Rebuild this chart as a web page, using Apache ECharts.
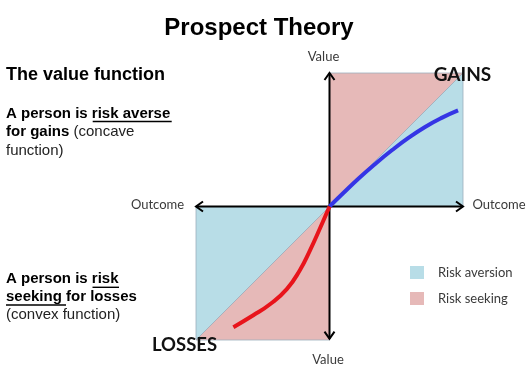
<!DOCTYPE html>
<html>
<head>
<meta charset="utf-8">
<script src="https://cdn.jsdelivr.net/npm/echarts@6/dist/echarts.min.js"></script>
<style>html,body{margin:0;padding:0;background:#fff}#c{width:527px;height:369px}</style>
</head>
<body>
<div id="c"></div>
<script>
// ---- data ----
const legendNames = ['Risk aversion', 'Risk seeking'];
// triangles [x1,y1,x2,y2,x3,y3] in outcome/value units
const aversionRegions = [[0, 0, 1, 0, 1, 1], [0, 0, -1, 0, -1, -1]];
const seekingRegions = [[0, 0, 0, 1, 1, 1], [0, 0, 0, -1, -1, -1]];
// axes [x1,y1,x2,y2]
const axisLines = [[-1, 0, 1, 0], [0, 1, 0, -0.99]];
// value function, gains (concave)
const gainX = [0, 0.09, 0.218, 0.342, 0.467, 0.591, 0.716, 0.84, 0.963];
const gainY = [0, 0.088, 0.21, 0.319, 0.421, 0.514, 0.596, 0.664, 0.72];
// value function, losses (convex)
const lossX = [0, -0.071, -0.146, -0.221, -0.32, -0.446, -0.571, -0.72];
const lossY = [0, -0.163, -0.328, -0.475, -0.619, -0.732, -0.815, -0.904];

const BLUE_FILL = '#B8DDE7', PINK_FILL = '#E6B9B8';
const zip = (a, b) => a.map((v, i) => [v, b[i]]);

function renderTri(params, api) {
  const p = [];
  for (let k = 0; k < 3; k++) p.push(api.coord([api.value(2 * k), api.value(2 * k + 1)]));
  return { type: 'polygon', shape: { points: p },
    style: { fill: api.visual('color'), stroke: '#9DAFBD', lineWidth: 0.8 } };
}
function renderAxis(params, api) {
  const a = api.coord([api.value(0), api.value(1)]);
  const b = api.coord([api.value(2), api.value(3)]);
  const dx = b[0] - a[0], dy = b[1] - a[1], L = Math.hypot(dx, dy);
  const ux = dx / L, uy = dy / L, px = -uy, py = ux, s = 7, w = 5;
  const head = (t, d) => [[t[0] - d * ux * s + px * w, t[1] - d * uy * s + py * w], [t[0], t[1]],
                          [t[0] - d * ux * s - px * w, t[1] - d * uy * s - py * w]];
  const st = { stroke: '#000', lineWidth: 2, fill: null };
  return { type: 'group', children: [
    { type: 'line', shape: { x1: a[0], y1: a[1], x2: b[0], y2: b[1] }, style: st },
    { type: 'polyline', shape: { points: head(b, 1) }, style: st },
    { type: 'polyline', shape: { points: head(a, -1) }, style: st }
  ] };
}

const chart = echarts.init(document.getElementById('c'), null, { renderer: 'canvas' });
const lato = 'Lato';
const arial = '"Liberation Sans", Arial';
const txt = (x, y, text, font, fill, align) => ({ type: 'text', x: x, y: y, z: 100,
  style: { text: text, font: font, fill: fill || '#000', align: align || 'center', verticalAlign: 'middle' } });
const rich = {
  b: { fontFamily: arial, fontWeight: 'bold', fontSize: 15, fill: '#000' },
  n: { fontFamily: arial, fontWeight: 'normal', fontSize: 15, fill: '#222' }
};
const rtxt = (x, y, text) => ({ type: 'text', x: x, y: y, z: 100,
  style: { text: text, rich: rich, align: 'left', verticalAlign: 'middle' } });
const uline = (x1, x2, y) => ({ type: 'line', z: 100, shape: { x1: x1, y1: y, x2: x2, y2: y },
  style: { stroke: '#000', lineWidth: 1.4 } });

chart.setOption({
  animation: false,
  backgroundColor: '#fff',
  grid: { left: 196, width: 267, top: 73, height: 267 },
  xAxis: { type: 'value', min: -1, max: 1, show: false },
  yAxis: { type: 'value', min: -1, max: 1, show: false },
  legend: {
    data: legendNames, orient: 'vertical', left: 410, top: 266, padding: 0, icon: 'rect',
    itemWidth: 14, itemHeight: 13, itemGap: 13,
    textStyle: { fontFamily: lato, fontSize: 13, color: '#3a3a3a', padding: [0, 0, 0, 9] }
  },
  graphic: [
    txt(259, 28.5, 'Prospect Theory', 'bold 24px ' + arial),
    txt(6, 75, 'The value function', 'bold 18px ' + arial, '#000', 'left'),
    rtxt(6, 114, '{b|A person is risk averse}'),
    uline(92.7, 171.7, 121.5),
    rtxt(6, 132, '{b|for gains}{n| (concave}'),
    rtxt(6, 151, '{n|function)}'),
    rtxt(6, 278.5, '{b|A person is risk}'),
    uline(92.5, 119, 287.3),
    rtxt(6, 296.5, '{b|seeking for losses}'),
    uline(6, 66, 305),
    rtxt(6, 315, '{n|(convex function)}'),
    txt(323.5, 57, 'Value', '13px ' + lato, '#3a3a3a'),
    txt(328, 360, 'Value', '13px ' + lato, '#3a3a3a'),
    txt(157.5, 205, 'Outcome', '13px ' + lato, '#3a3a3a'),
    txt(499, 205, 'Outcome', '13px ' + lato, '#3a3a3a'),
    txt(462.5, 75, 'GAINS', 'bold 19px ' + lato, '#111'),
    txt(184.5, 345, 'LOSSES', 'bold 18.5px ' + lato, '#111')
  ],
  series: [
    { name: 'Risk aversion', type: 'custom', renderItem: renderTri, itemStyle: { color: BLUE_FILL },
      encode: { x: [0, 2, 4], y: [1, 3, 5] }, data: aversionRegions, z: 1, silent: true },
    { name: 'Risk seeking', type: 'custom', renderItem: renderTri, itemStyle: { color: PINK_FILL },
      encode: { x: [0, 2, 4], y: [1, 3, 5] }, data: seekingRegions, z: 1, silent: true },
    { name: 'axes', type: 'custom', renderItem: renderAxis,
      encode: { x: [0, 2], y: [1, 3] }, data: axisLines, z: 3, silent: true },
    { name: 'gains', type: 'line', data: zip(gainX, gainY), smooth: 0.5, showSymbol: false,
      lineStyle: { color: '#3535E5', width: 4 }, itemStyle: { color: '#3535E5' }, z: 4 },
    { name: 'losses', type: 'line', data: zip(lossX, lossY), smooth: 0.5, showSymbol: false,
      lineStyle: { color: '#E8141B', width: 4 }, itemStyle: { color: '#E8141B' }, z: 4 }
  ]
});
</script>
</body>
</html>
